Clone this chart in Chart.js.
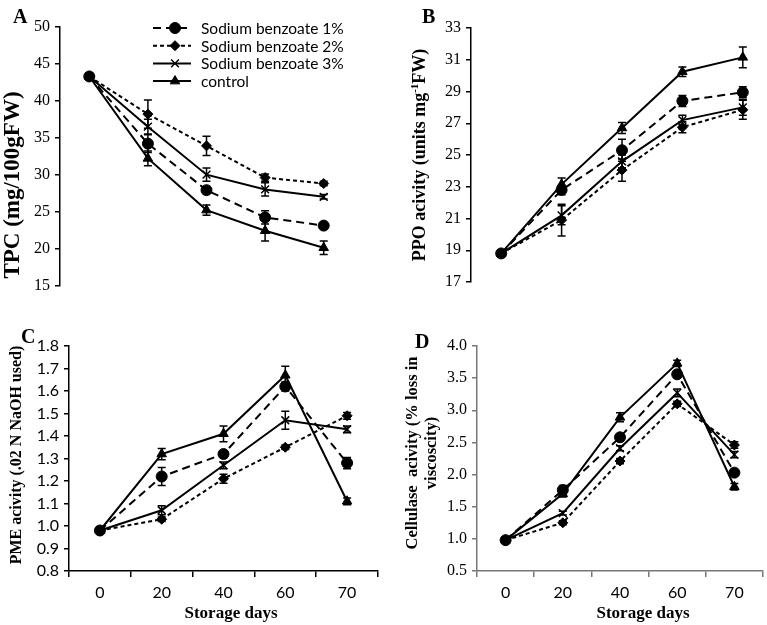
<!DOCTYPE html>
<html>
<head>
<meta charset="utf-8">
<script src="https://cdn.jsdelivr.net/npm/chart.js@4"></script>
<style>
  html, body { margin: 0; padding: 0; background: #fff; overflow: hidden; }
  body { width: 767px; height: 625px; position: relative; }
  canvas { position: absolute; }
  .lbl { position: absolute; font-family: "Liberation Serif", serif; font-weight: bold; color: #000; white-space: pre; line-height: 1; }
  .rot { transform: translate(-50%, -50%) rotate(-90deg); text-align: center; }
  .cx { transform: translate(-50%, -50%); }
</style>
</head>
<body>
<canvas id="chartA" width="360" height="300" style="left:0;top:0"></canvas>
<canvas id="chartB" width="400" height="300" style="left:380px;top:0"></canvas>
<canvas id="chartC" width="385" height="325" style="left:0;top:300px"></canvas>
<canvas id="chartD" width="390" height="325" style="left:380px;top:300px"></canvas>

<div class="lbl" style="left:13px;top:6px;font-size:20px">A</div>
<div class="lbl" style="left:422px;top:6px;font-size:20px">B</div>
<div class="lbl" style="left:21px;top:326px;font-size:20px">C</div>
<div class="lbl" style="left:415px;top:331px;font-size:20px">D</div>

<div class="lbl rot" style="left:11px;top:185px;font-size:23px">TPC (mg/100gFW)</div>
<div class="lbl rot" style="left:418px;top:155px;font-size:18px">PPO acivity (units mg<sup style="font-size:11px">-1</sup>FW)</div>
<div class="lbl rot" style="left:16px;top:455px;font-size:16px">PME acivity (.02 N NaOH used)</div>
<div class="lbl rot" style="left:421px;top:453px;font-size:16.5px;line-height:19px">Cellulase  acivity (% loss in
viscoscity)</div>
<div class="lbl cx" style="left:231px;top:612px;font-size:17px">Storage days</div>
<div class="lbl cx" style="left:643px;top:612px;font-size:17px">Storage days</div>

<script>
var days = ['0', '20', '40', '60', '70'];
var seriesNames = ['Sodium benzoate 1%', 'Sodium benzoate 2%', 'Sodium benzoate 3%', 'control'];

// A - TPC (mg/100gFW)
var tpcSB1 = [43.3, 34.2, 27.9, 24.2, 23.1];
var tpcSB2 = [43.3, 38.2, 33.9, 29.6, 28.8];
var tpcSB3 = [43.3, 36.5, 30.0, 28.0, 27.0];
var tpcCtrl = [43.3, 32.2, 25.2, 22.4, 20.1];
var tpcErrSB1 = [0.3, 1.2, 0.5, 0.9, 0.4];
var tpcErrSB2 = [0.3, 1.9, 1.3, 0.5, 0.3];
var tpcErrSB3 = [0.3, 1.0, 0.9, 0.9, 0.3];
var tpcErrCtrl = [0.3, 1.0, 0.7, 1.4, 0.9];

// B - PPO activity
var ppoSB1 = [18.8, 22.8, 25.3, 28.4, 28.95];
var ppoSB2 = [18.8, 20.9, 24.05, 26.75, 27.85];
var ppoSB3 = [18.8, 21.2, 24.6, 27.2, 28.0];
var ppoCtrl = [18.8, 23.15, 26.7, 30.25, 31.15];
var ppoErrSB1 = [0.2, 0.3, 0.7, 0.35, 0.35];
var ppoErrSB2 = [0.2, 1.0, 0.7, 0.35, 0.6];
var ppoErrSB3 = [0.2, 0.6, 0.4, 0.3, 0.5];
var ppoErrCtrl = [0.2, 0.4, 0.35, 0.3, 0.65];

// C - PME activity
var pmeSB1 = [0.98, 1.22, 1.32, 1.62, 1.28];
var pmeSB2 = [0.98, 1.03, 1.21, 1.35, 1.49];
var pmeSB3 = [0.98, 1.07, 1.27, 1.47, 1.43];
var pmeCtrl = [0.98, 1.32, 1.41, 1.67, 1.11];
var pmeErrSB1 = [0.01, 0.04, 0.015, 0.02, 0.025];
var pmeErrSB2 = [0.01, 0.01, 0.02, 0.01, 0.015];
var pmeErrSB3 = [0.01, 0.02, 0.015, 0.04, 0.015];
var pmeErrCtrl = [0.01, 0.025, 0.035, 0.04, 0.015];

// D - Cellulase activity
var celSB1 = [0.98, 1.76, 2.58, 3.56, 2.03];
var celSB2 = [0.98, 1.25, 2.21, 3.10, 2.46];
var celSB3 = [0.98, 1.40, 2.41, 3.27, 2.31];
var celCtrl = [0.98, 1.70, 2.89, 3.73, 1.81];
var celErrSB1 = [0.03, 0.07, 0.05, 0.05, 0.05];
var celErrSB2 = [0.03, 0.03, 0.04, 0.04, 0.05];
var celErrSB3 = [0.03, 0.03, 0.04, 0.06, 0.05];
var celErrCtrl = [0.03, 0.05, 0.07, 0.05, 0.05];

var looks = [
    { borderDash: [8, 5], pointStyle: 'circle', pointRadius: 5.5, pointBorderWidth: 1 },
    { borderDash: [4, 3], pointStyle: 'rectRot', pointRadius: 5, pointBorderWidth: 1 },
    { borderDash: [], pointStyle: 'crossRot', pointRadius: 5.5, pointBorderWidth: 1.5 },
    { borderDash: [], pointStyle: 'triangle', pointRadius: 5.5, pointBorderWidth: 1 }
];

function makeDatasets(values, errors) {
    return seriesNames.map(function (name, i) {
        return Object.assign({
            label: name,
            data: values[i],
            errors: errors[i],
            borderColor: '#000',
            borderWidth: 2,
            backgroundColor: '#000',
            pointBackgroundColor: '#000',
            pointBorderColor: '#000',
            tension: 0,
            fill: false
        }, looks[i]);
    });
}

// error bars drawn through the y scale
var errorBars = {
    id: 'errorBars',
    afterDatasetsDraw: function (chart) {
        var ctx = chart.ctx;
        var ys = chart.scales.y;
        ctx.save();
        ctx.strokeStyle = '#000';
        ctx.lineWidth = 1.5;
        chart.data.datasets.forEach(function (ds, i) {
            var meta = chart.getDatasetMeta(i);
            meta.data.forEach(function (pt, j) {
                var v = ds.data[j], e = ds.errors[j];
                var top = ys.getPixelForValue(v + e);
                var bot = ys.getPixelForValue(v - e);
                ctx.beginPath();
                ctx.moveTo(pt.x, top); ctx.lineTo(pt.x, bot);
                ctx.moveTo(pt.x - 4, top); ctx.lineTo(pt.x + 4, top);
                ctx.moveTo(pt.x - 4, bot); ctx.lineTo(pt.x + 4, bot);
                ctx.stroke();
            });
        });
        ctx.restore();
    }
};

// legend with line samples, only in panel A
var lineLegend = {
    id: 'lineLegend',
    afterDraw: function (chart) {
        var ctx = chart.ctx;
        chart.data.datasets.forEach(function (ds, i) {
            var y = 28 + i * 17.7;
            ctx.save();
            ctx.strokeStyle = '#000';
            ctx.fillStyle = '#000';
            ctx.lineWidth = 2;
            ctx.setLineDash(ds.borderDash);
            ctx.beginPath();
            ctx.moveTo(153, y); ctx.lineTo(191, y);
            ctx.stroke();
            ctx.setLineDash([]);
            ctx.lineWidth = ds.pointBorderWidth;
            Chart.helpers.drawPoint(ctx, { pointStyle: ds.pointStyle, radius: ds.pointRadius, borderWidth: ds.pointBorderWidth, rotation: 0 }, 175, y);
            ctx.font = '15.5px Lato';
            ctx.textBaseline = 'middle';
            ctx.fillText(ds.label, 201, y + 1);
            ctx.restore();
        });
    }
};

function yAxis(min, max, step, width, font, color, decimals) {
    return {
        min: min, max: max,
        ticks: {
            stepSize: step, color: '#000', padding: 5, font: font,
            callback: function (v) { return Number(v).toFixed(decimals); }
        },
        grid: { drawOnChartArea: false, drawTicks: true, tickLength: 5, color: color, lineWidth: 1.5 },
        border: { color: color, width: 1.5 },
        afterFit: function (s) { s.width = width; }
    };
}

function xAxis(show, color) {
    if (!show) return { type: 'category', display: false, offset: true };
    return {
        type: 'category', offset: true,
        ticks: { color: '#000', padding: 6, font: { family: 'Lato', size: 16 } },
        grid: { offset: true, drawOnChartArea: false, tickLength: 6, color: color, lineWidth: 1.5 },
        border: { color: color, width: 1.5 },
        afterFit: function (s) { s.height = 30; }
    };
}

function makeChart(id, datasets, x, y, padding, plugins) {
    return new Chart(document.getElementById(id), {
        type: 'line',
        data: { labels: days, datasets: datasets },
        options: {
            responsive: false,
            animation: false,
            layout: { padding: padding },
            plugins: { legend: { display: false }, tooltip: { enabled: false } },
            scales: { x: x, y: y }
        },
        plugins: plugins
    });
}

var serif = { family: 'Liberation Serif', size: 16 };

makeChart('chartA',
    makeDatasets([tpcSB1, tpcSB2, tpcSB3, tpcCtrl], [tpcErrSB1, tpcErrSB2, tpcErrSB3, tpcErrCtrl]),
    xAxis(false), yAxis(15, 50, 5, 60, serif, '#000', 0),
    { top: 27, bottom: 13, right: 4, left: 0 }, [errorBars, lineLegend]);

makeChart('chartB',
    makeDatasets([ppoSB1, ppoSB2, ppoSB3, ppoCtrl], [ppoErrSB1, ppoErrSB2, ppoErrSB3, ppoErrCtrl]),
    xAxis(false), yAxis(17, 33, 2, 91, serif, '#000', 0),
    { top: 28, bottom: 18, right: 6, left: 0 }, [errorBars]);

makeChart('chartC',
    makeDatasets([pmeSB1, pmeSB2, pmeSB3, pmeCtrl], [pmeErrSB1, pmeErrSB2, pmeErrSB3, pmeErrCtrl]),
    xAxis(true, '#000'), yAxis(0.8, 1.8, 0.1, 69, { family: 'Lato', size: 16 }, '#000', 1),
    { top: 46, bottom: 24, right: 2, left: 0 }, [errorBars]);

makeChart('chartD',
    makeDatasets([celSB1, celSB2, celSB3, celCtrl], [celErrSB1, celErrSB2, celErrSB3, celErrCtrl]),
    xAxis(true, '#777'), yAxis(0.5, 4.0, 0.5, 97, serif, '#777', 1),
    { top: 46, bottom: 24, right: 4, left: 0 }, [errorBars]);
</script>
</body>
</html>
